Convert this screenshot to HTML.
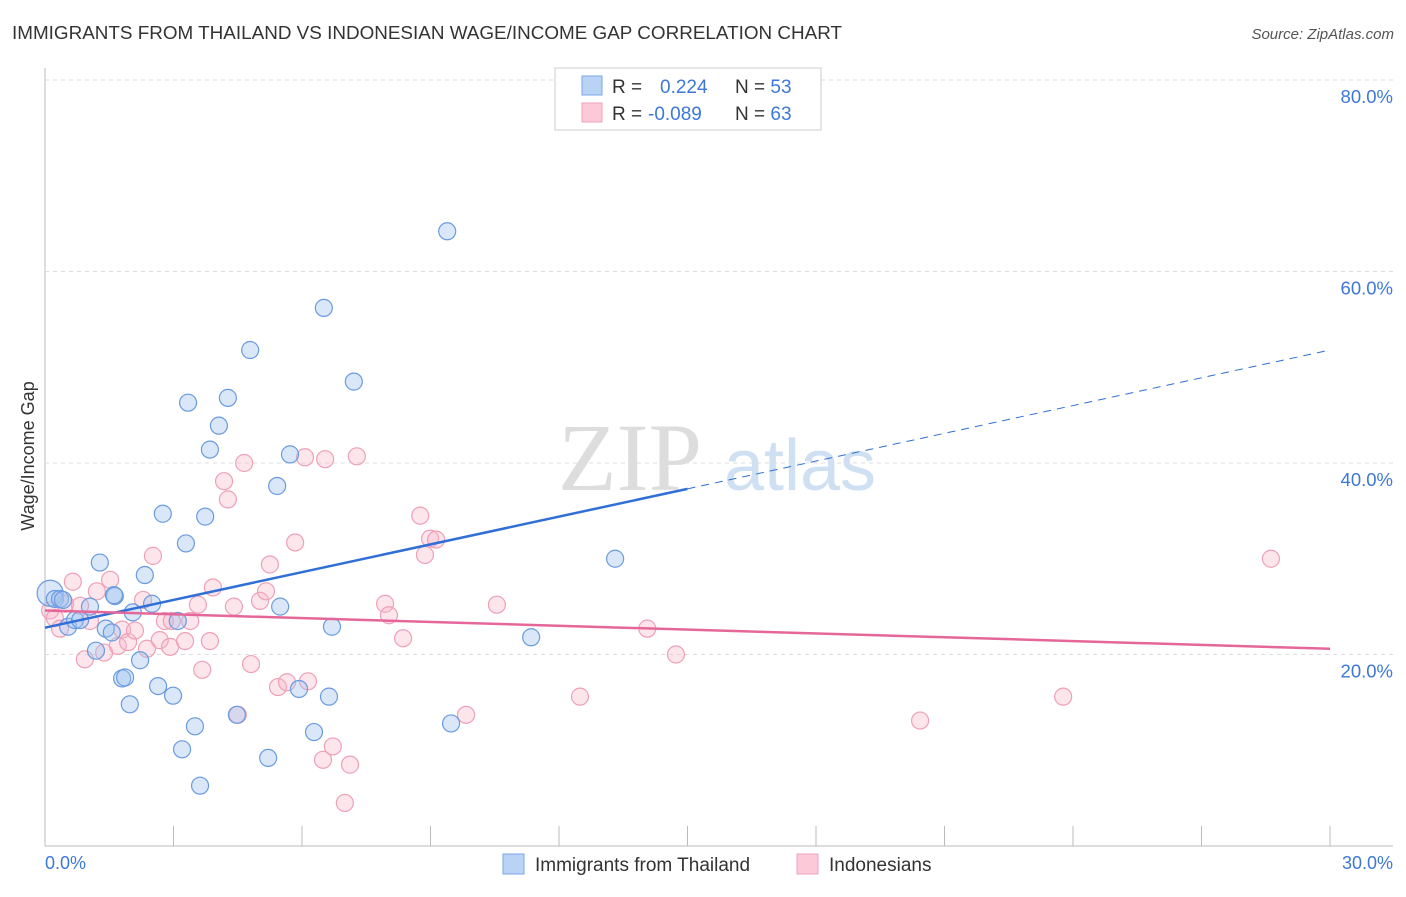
<!DOCTYPE html>
<html><head><meta charset="utf-8"><style>
body{margin:0;background:#fff;font-family:"Liberation Sans",sans-serif;}
</style></head><body>
<svg width="1406" height="892" xmlns="http://www.w3.org/2000/svg" font-family="Liberation Sans, sans-serif">
<text x="12" y="39" font-size="18" fill="#333" textLength="830" lengthAdjust="spacingAndGlyphs">IMMIGRANTS FROM THAILAND VS INDONESIAN WAGE/INCOME GAP CORRELATION CHART</text>
<text x="1394" y="39" font-size="15" fill="#555" font-style="italic" text-anchor="end">Source: ZipAtlas.com</text>
<g id="grid"></g>
<text x="630" y="490" font-size="96" fill="#ddd" font-family="Liberation Serif, serif" text-anchor="middle">ZIP</text>
<text x="800" y="490" font-size="72" fill="#cfe0f3" text-anchor="middle">atlas</text>
<g id="pts"></g>
<g id="lines"></g>
<text transform="translate(34,456) rotate(-90)" font-size="18" fill="#333" text-anchor="middle">Wage/Income Gap</text>
<text x="45" y="869" font-size="18" fill="#3d78d8">0.0%</text>
<text x="1393" y="869" font-size="18" fill="#3d78d8" text-anchor="end">30.0%</text>
<g>
<rect x="555" y="68" width="266" height="62" fill="#fff" stroke="#ccc"/>
<rect x="582" y="76" width="20" height="19" fill="#b9d3f5" stroke="#7aa6e6"/>
<rect x="582" y="103" width="20" height="19" fill="#fbc9d8" stroke="#eea3bb"/>
<text x="612" y="93" font-size="19" fill="#333">R = <tspan x="660" fill="#3d78d8">0.224</tspan><tspan x="735" fill="#333">N = </tspan><tspan fill="#3d78d8">53</tspan></text>
<text x="612" y="120" font-size="19" fill="#333">R = <tspan x="648" fill="#3d78d8">-0.089</tspan><tspan x="735" fill="#333">N = </tspan><tspan fill="#3d78d8">63</tspan></text>
</g>
<g>
<rect x="503" y="854" width="21" height="20" fill="#b9d3f5" stroke="#7aa6e6"/>
<text x="535" y="871" font-size="19" fill="#333">Immigrants from Thailand</text>
<rect x="797" y="854" width="21" height="20" fill="#fbc9d8" stroke="#eea3bb"/>
<text x="829" y="871" font-size="19" fill="#333">Indonesians</text>
</g>
</svg>
<script>
const blueX=[0.12,0.23,0.35,0.42,0.54,0.7,0.82,1.05,1.19,1.28,1.42,1.56,1.63,1.61,1.8,1.87,1.98,2.05,2.22,2.33,2.5,2.64,2.75,2.99,3.1,3.2,3.29,3.34,3.5,3.62,3.74,3.85,4.06,4.27,4.48,4.79,5.21,5.42,5.49,5.72,5.93,6.28,6.51,6.63,6.7,7.21,9.39,9.48,11.35,13.31];
const blueY=[26.4,25.8,25.8,25.7,22.9,23.6,23.6,25.0,20.4,29.6,22.7,22.3,26.1,26.2,17.5,17.6,14.8,24.4,19.4,28.3,25.3,16.7,34.7,15.7,23.5,10.1,31.6,46.3,12.5,6.3,34.4,41.4,43.9,46.8,13.7,51.8,9.2,37.6,25.0,40.9,16.4,11.9,56.2,15.6,22.9,48.5,64.2,12.8,21.8,30.0];
const pinkX=[0.12,0.23,0.35,0.47,0.65,0.82,0.93,1.05,1.21,1.38,1.52,1.7,1.8,1.94,2.1,2.29,2.38,2.52,2.68,2.8,2.92,2.96,3.27,3.39,3.57,3.67,3.85,3.92,4.18,4.27,4.41,4.5,4.65,4.81,5.02,5.16,5.25,5.44,5.65,5.84,6.07,6.14,6.49,6.54,6.72,7.0,7.12,7.28,7.94,8.03,8.36,8.76,8.87,8.99,9.13,9.83,10.55,12.49,14.06,14.73,20.43,23.77,28.62];
const pinkY=[24.6,23.8,22.7,25.3,27.6,25.1,19.5,23.5,26.6,20.2,27.8,20.9,22.6,21.3,22.5,25.7,20.6,30.3,21.5,23.5,20.8,23.5,21.4,23.5,25.2,18.4,21.4,27.0,38.1,36.2,25.0,13.7,40.0,19.0,25.6,26.6,29.4,16.6,17.1,31.7,40.6,17.2,9.0,40.4,10.4,4.5,8.5,40.7,25.3,24.1,21.7,34.5,30.4,32.1,32.0,13.7,25.2,15.6,22.7,20.0,13.1,15.6,30.0];
const yTicks=[20,40,60,80];
const X=v=>45+v/30*1285, Y=v=>846-v/20*191.5;
const NS='http://www.w3.org/2000/svg';
function mk(t,a,p){const e=document.createElementNS(NS,t);for(const k in a)e.setAttribute(k,a[k]);p.appendChild(e);return e;}
const g=document.getElementById('grid');
mk('line',{x1:45,y1:68,x2:45,y2:846,stroke:'#bbb'},g);
mk('line',{x1:45,y1:846,x2:1393,y2:846,stroke:'#bbb'},g);
for(let i=1;i<=10;i++){const l=mk('line',{x1:X(i*3),y1:826,x2:X(i*3),y2:846,stroke:'#bbb'},g);}
yTicks.forEach(t=>{const l=mk('line',{x1:45,y1:Y(t),x2:1393,y2:Y(t),stroke:'#ddd','stroke-dasharray':'4,4'},g);
const tx=mk('text',{x:1393,y:Y(t)+23,'font-size':18.5,fill:'#3d78d8','text-anchor':'end'},g);tx.textContent=t.toFixed(1)+'%';});
const p=document.getElementById('pts');
pinkX.forEach((x,i)=>{const c=mk('circle',{cx:X(x),cy:Y(pinkY[i]),r:8.5,fill:'rgba(248,180,200,0.35)',stroke:'#eea0b8','stroke-width':1.2},p);});
blueX.forEach((x,i)=>{const c=mk('circle',{cx:X(x),cy:Y(blueY[i]),r:i==0?13:8.5,fill:'rgba(160,195,240,0.4)',stroke:'#6a9be0','stroke-width':1.2},p);});
const L=document.getElementById('lines');
let a=mk('line',{x1:X(0),y1:Y(22.8),x2:X(15),y2:Y(37.3),stroke:'#2f6fd6','stroke-width':2.5},L);

a=mk('line',{x1:X(15),y1:Y(37.3),x2:X(30),y2:Y(51.8),stroke:'#2f6fd6','stroke-width':1,'stroke-dasharray':'8,6'},L);

a=mk('line',{x1:X(0),y1:Y(24.6),x2:X(30),y2:Y(20.6),stroke:'#e5679a','stroke-width':2.5},L);

</script>
</body></html>
